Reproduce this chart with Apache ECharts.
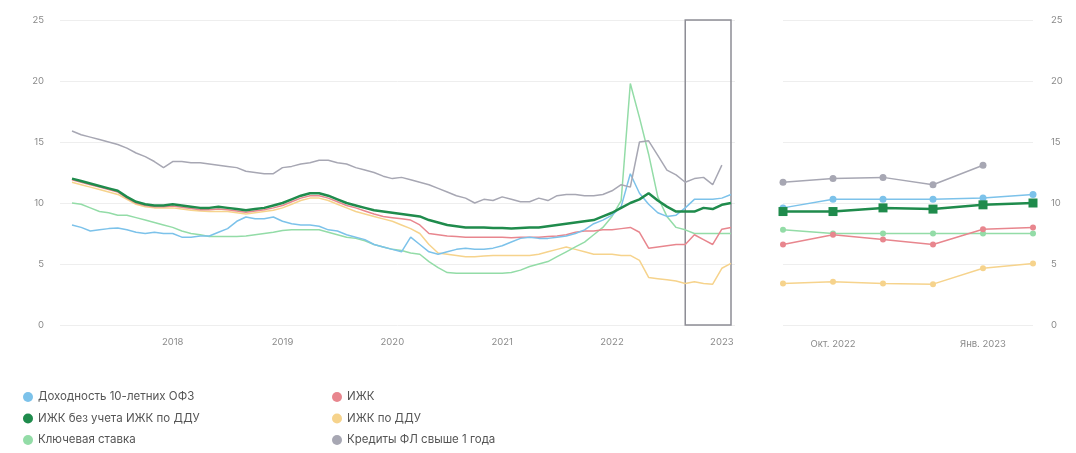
<!DOCTYPE html>
<html>
<head>
<meta charset="utf-8">
<script src="https://cdn.jsdelivr.net/npm/echarts@6/dist/echarts.min.js"></script>
<style>html,body{margin:0;padding:0;background:#fff}#c{width:1076px;height:453px}</style>
</head>
<body>
<div id="c"></div>
<script>
const months = ['2017-02','2017-03','2017-04','2017-05','2017-06','2017-07','2017-08','2017-09','2017-10','2017-11','2017-12',
'2018-01','2018-02','2018-03','2018-04','2018-05','2018-06','2018-07','2018-08','2018-09','2018-10','2018-11','2018-12',
'2019-01','2019-02','2019-03','2019-04','2019-05','2019-06','2019-07','2019-08','2019-09','2019-10','2019-11','2019-12',
'2020-01','2020-02','2020-03','2020-04','2020-05','2020-06','2020-07','2020-08','2020-09','2020-10','2020-11','2020-12',
'2021-01','2021-02','2021-03','2021-04','2021-05','2021-06','2021-07','2021-08','2021-09','2021-10','2021-11','2021-12',
'2022-01','2022-02','2022-03','2022-04','2022-05','2022-06','2022-07','2022-08','2022-09','2022-10','2022-11','2022-12',
'2023-01','2023-02'];
const zoomMonths = ['Сен. 2022','Окт. 2022','Ноя. 2022','Дек. 2022','Янв. 2023','Фев. 2023'];
const yTicks = [0,5,10,15,20,25];

const ofz10 = [8.2,8.0,7.7,7.8,7.9,7.95,7.8,7.6,7.5,7.6,7.5,7.5,7.2,7.2,7.3,7.3,7.6,7.9,8.5,8.85,8.7,8.7,8.85,8.5,8.3,8.2,8.2,8.1,7.8,7.7,7.4,7.2,7.0,6.6,6.4,6.2,6.0,7.2,6.6,6.0,5.8,6.0,6.2,6.3,6.2,6.2,6.3,6.5,6.8,7.1,7.2,7.1,7.1,7.2,7.3,7.5,7.8,8.3,8.6,9.0,9.7,12.4,10.8,9.9,9.2,8.9,9.0,9.6,10.3,10.3,10.3,10.4,10.7];
const izhkExDdu = [12.0,11.8,11.6,11.4,11.2,11.0,10.5,10.1,9.9,9.8,9.8,9.9,9.8,9.7,9.6,9.6,9.7,9.6,9.5,9.4,9.5,9.6,9.8,10.0,10.3,10.6,10.8,10.8,10.6,10.3,10.0,9.8,9.6,9.4,9.3,9.2,9.1,9.0,8.9,8.6,8.4,8.2,8.1,8.0,8.0,8.0,7.95,7.95,7.9,7.95,8.0,8.0,8.1,8.2,8.3,8.4,8.5,8.6,8.9,9.2,9.6,10.0,10.3,10.8,10.2,9.7,9.3,9.3,9.3,9.6,9.5,9.85,10.0];
const keyRate = [10.0,9.9,9.6,9.3,9.2,9.0,9.0,8.8,8.6,8.4,8.2,8.0,7.7,7.5,7.4,7.25,7.25,7.25,7.25,7.3,7.4,7.5,7.6,7.75,7.8,7.8,7.8,7.8,7.6,7.4,7.2,7.1,6.9,6.6,6.4,6.2,6.1,5.9,5.8,5.2,4.7,4.3,4.25,4.25,4.25,4.25,4.25,4.25,4.3,4.5,4.8,5.0,5.2,5.6,6.0,6.4,6.8,7.4,8.0,8.9,10.2,19.8,17.0,14.0,10.5,8.9,8.0,7.8,7.5,7.5,7.5,7.5,7.5];
const izhk = [11.9,11.7,11.5,11.3,11.1,10.9,10.4,10.0,9.8,9.7,9.7,9.75,9.65,9.55,9.45,9.45,9.5,9.45,9.35,9.25,9.35,9.45,9.6,9.8,10.1,10.4,10.6,10.6,10.4,10.1,9.8,9.6,9.35,9.1,8.9,8.8,8.7,8.6,8.2,7.5,7.4,7.3,7.25,7.2,7.2,7.2,7.2,7.2,7.15,7.2,7.2,7.2,7.25,7.3,7.4,7.6,7.7,7.7,7.8,7.8,7.9,8.0,7.6,6.3,6.4,6.5,6.6,6.6,7.4,7.0,6.6,7.85,8.0];
const izhkDdu = [11.7,11.5,11.3,11.1,10.9,10.7,10.3,9.9,9.7,9.6,9.6,9.6,9.5,9.4,9.35,9.3,9.3,9.3,9.2,9.1,9.2,9.3,9.4,9.6,9.9,10.2,10.4,10.4,10.2,9.9,9.6,9.3,9.1,8.9,8.7,8.5,8.2,7.9,7.5,6.6,5.9,5.8,5.7,5.6,5.6,5.65,5.7,5.7,5.7,5.7,5.7,5.8,6.0,6.2,6.4,6.2,6.0,5.8,5.8,5.8,5.7,5.7,5.3,3.9,3.8,3.7,3.6,3.4,3.55,3.4,3.35,4.65,5.05];
const loansOver1y = [15.9,15.6,15.4,15.2,15.0,14.8,14.5,14.1,13.8,13.4,12.9,13.4,13.4,13.3,13.3,13.2,13.1,13.0,12.9,12.6,12.5,12.4,12.4,12.9,13.0,13.2,13.3,13.5,13.5,13.3,13.2,12.9,12.7,12.5,12.2,12.0,12.1,11.9,11.7,11.5,11.2,10.9,10.6,10.4,10.0,10.3,10.2,10.5,10.3,10.1,10.1,10.4,10.2,10.6,10.7,10.7,10.6,10.6,10.7,11.0,11.5,11.3,15.0,15.1,13.9,12.7,12.3,11.7,12.0,12.1,11.5,13.1,null];

const zoomStart = 67; // Sep 2022

const names = ['Доходность 10-летних ОФЗ','ИЖК без учета ИЖК по ДДУ','Ключевая ставка','ИЖК','ИЖК по ДДУ','Кредиты ФЛ свыше 1 года'];
const colors = {
  'Доходность 10-летних ОФЗ':'#7cc2ea',
  'ИЖК без учета ИЖК по ДДУ':'#1f8b4c',
  'Ключевая ставка':'#93dca7',
  'ИЖК':'#e8868e',
  'ИЖК по ДДУ':'#f6d38c',
  'Кредиты ФЛ свыше 1 года':'#a7a7b3'
};
const dataByName = {
  'Доходность 10-летних ОФЗ':ofz10,
  'ИЖК без учета ИЖК по ДДУ':izhkExDdu,
  'Ключевая ставка':keyRate,
  'ИЖК':izhk,
  'ИЖК по ДДУ':izhkDdu,
  'Кредиты ФЛ свыше 1 года':loansOver1y
};
const drawOrder = ['ИЖК по ДДУ','Ключевая ставка','ИЖК','Доходность 10-летних ОФЗ','Кредиты ФЛ свыше 1 года','ИЖК без учета ИЖК по ДДУ'];

const font = 'Inter, "Open Sans", sans-serif';
const series = [];
drawOrder.forEach(function(n){
  const main = n === 'ИЖК без учета ИЖК по ДДУ';
  const s = {
    name:n, type:'line', xAxisIndex:0, yAxisIndex:0,
    data:dataByName[n], showSymbol:false, symbol:'circle',
    lineStyle:{width: main ? 2.5 : 1.5, color:colors[n]},
    itemStyle:{color:colors[n]}, z: main ? 5 : 3
  };
  if (n === 'Кредиты ФЛ свыше 1 года') {
    s.markArea = {
      silent:true,
      itemStyle:{color:'rgba(0,0,0,0)', borderColor:'#8d8d95', borderWidth:1.5},
      data:[[{xAxis:months[zoomStart], yAxis:0},{xAxis:months[months.length-1], yAxis:25}]]
    };
  }
  series.push(s);
  series.push({
    name:n, type:'line', xAxisIndex:1, yAxisIndex:1,
    data:dataByName[n].slice(zoomStart), showSymbol:true,
    symbol: main ? 'rect' : 'circle',
    symbolSize: main ? 9 : ((n === 'Кредиты ФЛ свыше 1 года' || n === 'Доходность 10-летних ОФЗ') ? 7 : 6),
    lineStyle:{width: main ? 2.5 : 1.5, color:colors[n]},
    itemStyle:{color:colors[n]}, z: main ? 5 : 3
  });
});

const axisLabelStyle = {color:'#8a8a8a', fontSize:9.5, fontFamily:font};
const option = {
  animation:false,
  backgroundColor:'#fff',
  legend:[
    {data:[names[0],names[1],names[2]], orient:'vertical', left:18, top:386, itemWidth:10, itemHeight:10, itemGap:9.5, icon:'circle',
     textStyle:{color:'#555', fontSize:11.5, fontFamily:font}},
    {data:[names[3],names[4],names[5]], orient:'vertical', left:327, top:386, itemWidth:10, itemHeight:10, itemGap:9.5, icon:'circle',
     textStyle:{color:'#555', fontSize:11.5, fontFamily:font}}
  ],
  grid:[
    {left:72, right:345, top:20, bottom:128},
    {left:783, right:43, top:20, bottom:128},
    {left:60, right:341, top:20, bottom:128}
  ],
  xAxis:[
    {type:'category', gridIndex:0, data:months, boundaryGap:false,
     axisLine:{show:false}, axisTick:{show:false},
     axisLabel:Object.assign({margin:12, interval:function(i,v){return v.slice(5)==='01';}, formatter:function(v){return v.slice(0,4);}}, axisLabelStyle),
     splitLine:{show:false}},
    {type:'category', gridIndex:1, data:zoomMonths, boundaryGap:false,
     axisLine:{show:false}, axisTick:{show:false},
     axisLabel:Object.assign({margin:14, interval:function(i){return i===1||i===4;}}, axisLabelStyle),
     splitLine:{show:false}},
    {type:'value', gridIndex:2, min:0, max:1, show:false}
  ],
  yAxis:[
    {type:'value', gridIndex:0, min:yTicks[0], max:yTicks[yTicks.length-1], interval:5, show:false,
     splitLine:{show:false}},
    {type:'value', gridIndex:1, position:'right', min:yTicks[0], max:yTicks[yTicks.length-1], interval:5,
     axisLabel:Object.assign({margin:18}, axisLabelStyle),
     axisLine:{show:false}, axisTick:{show:false},
     splitLine:{lineStyle:{color:'#eeeeee', width:1}}},
    {type:'value', gridIndex:2, min:yTicks[0], max:yTicks[yTicks.length-1], interval:5,
     axisLabel:Object.assign({margin:16}, axisLabelStyle),
     axisLine:{show:false}, axisTick:{show:false},
     splitLine:{lineStyle:{color:'#eeeeee', width:1}}}
  ],
  series:series
};
const chart = echarts.init(document.getElementById('c'), null, {renderer:'canvas'});
chart.setOption(option);
</script>
</body>
</html>
